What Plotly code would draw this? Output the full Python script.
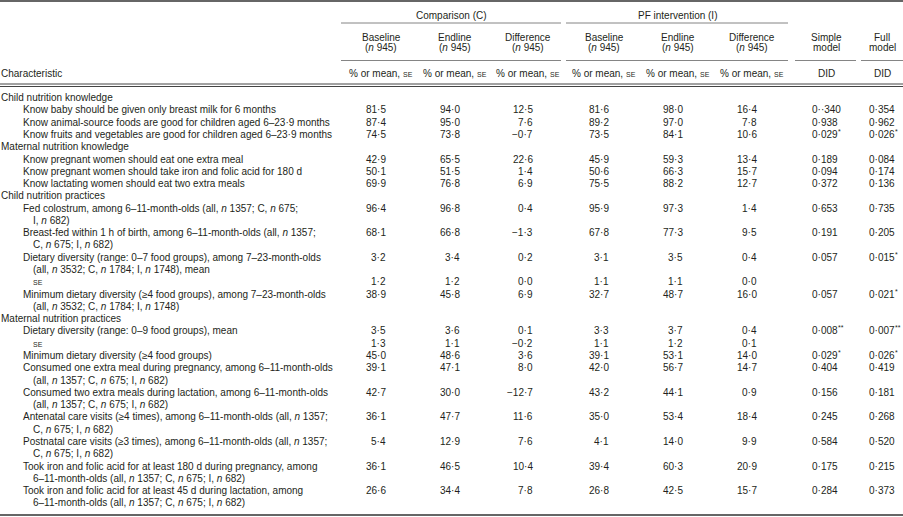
import plotly.graph_objects as go

# filas del cuerpo de la tabla (una entrada por línea de texto)
etiquetas = [
    "Child nutrition knowledge",
    "Know baby should be given only breast milk for 6 months",
    "Know animal-source foods are good for children aged 6–23·9 months",
    "Know fruits and vegetables are good for children aged 6–23·9 months",
    "Maternal nutrition knowledge",
    "Know pregnant women should eat one extra meal",
    "Know pregnant women should take iron and folic acid for 180 d",
    "Know lactating women should eat two extra meals",
    "Child nutrition practices",
    "Fed colostrum, among 6–11-month-olds (all, <i>n</i> 1357; C, <i>n</i> 675;",
    "I, <i>n</i> 682)",
    "Breast-fed within 1 h of birth, among 6–11-month-olds (all, <i>n</i> 1357;",
    "C, <i>n</i> 675; I, <i>n</i> 682)",
    "Dietary diversity (range: 0–7 food groups), among 7–23-month-olds",
    "(all, <i>n</i> 3532; C, <i>n</i> 1784; I, <i>n</i> 1748), mean",
    "SE",
    "Minimum dietary diversity (≥4 food groups), among 7–23-month-olds",
    "(all, <i>n</i> 3532; C, <i>n</i> 1784; I, <i>n</i> 1748)",
    "Maternal nutrition practices",
    "Dietary diversity (range: 0–9 food groups), mean",
    "SE",
    "Minimum dietary diversity (≥4 food groups)",
    "Consumed one extra meal during pregnancy, among 6–11-month-olds",
    "(all, <i>n</i> 1357; C, <i>n</i> 675; I, <i>n</i> 682)",
    "Consumed two extra meals during lactation, among 6–11-month-olds",
    "(all, <i>n</i> 1357; C, <i>n</i> 675; I, <i>n</i> 682)",
    "Antenatal care visits (≥4 times), among 6–11-month-olds (all, <i>n</i> 1357;",
    "C, <i>n</i> 675; I, <i>n</i> 682)",
    "Postnatal care visits (≥3 times), among 6–11-month-olds (all, <i>n</i> 1357;",
    "C, <i>n</i> 675; I, <i>n</i> 682)",
    "Took iron and folic acid for at least 180 d during pregnancy, among",
    "6–11-month-olds (all, <i>n</i> 1357; C, <i>n</i> 675; I, <i>n</i> 682)",
    "Took iron and folic acid for at least 45 d during lactation, among",
    "6–11-month-olds (all, <i>n</i> 1357; C, <i>n</i> 675; I, <i>n</i> 682)",
]
nivel = [0, 1, 1, 1, 0, 1, 1, 1, 0, 1, 2, 1, 2, 1, 2, 2, 1, 2,
         0, 1, 2, 1, 1, 2, 1, 2, 1, 2, 1, 2, 1, 2, 1, 2]

N = None
base_c = [N, 81.5, 87.4, 74.5, N, 42.9, 50.1, 69.9, N, 96.4, N, 68.1, N, 3.2, N, 1.2, 38.9, N,
          N, 3.5, 1.3, 45.0, 39.1, N, 42.7, N, 36.1, N, 5.4, N, 36.1, N, 26.6, N]
end_c = [N, 94.0, 95.0, 73.8, N, 65.5, 51.5, 76.8, N, 96.8, N, 66.8, N, 3.4, N, 1.2, 45.8, N,
         N, 3.6, 1.1, 48.6, 47.1, N, 30.0, N, 47.7, N, 12.9, N, 46.5, N, 34.4, N]
dif_c = [N, 12.5, 7.6, -0.7, N, 22.6, 1.4, 6.9, N, 0.4, N, -1.3, N, 0.2, N, 0.0, 6.9, N,
         N, 0.1, -0.2, 3.6, 8.0, N, -12.7, N, 11.6, N, 7.6, N, 10.4, N, 7.8, N]
base_i = [N, 81.6, 89.2, 73.5, N, 45.9, 50.6, 75.5, N, 95.9, N, 67.8, N, 3.1, N, 1.1, 32.7, N,
          N, 3.3, 1.1, 39.1, 42.0, N, 43.2, N, 35.0, N, 4.1, N, 39.4, N, 26.8, N]
end_i = [N, 98.0, 97.0, 84.1, N, 59.3, 66.3, 88.2, N, 97.3, N, 77.3, N, 3.5, N, 1.1, 48.7, N,
         N, 3.7, 1.2, 53.1, 56.7, N, 44.1, N, 53.4, N, 14.0, N, 60.3, N, 42.5, N]
dif_i = [N, 16.4, 7.8, 10.6, N, 13.4, 15.7, 12.7, N, 1.4, N, 9.5, N, 0.4, N, 0.0, 16.0, N,
         N, 0.4, 0.1, 14.0, 14.7, N, 0.9, N, 18.4, N, 9.9, N, 20.9, N, 15.7, N]
did_simple = ["", "0··340", "0·938", "0·029", "", "0·189", "0·094", "0·372", "", "0·653", "",
              "0·191", "", "0·057", "", "", "0·057", "", "", "0·008", "", "0·029", "0·404", "",
              "0·156", "", "0·245", "", "0·584", "", "0·175", "", "0·284", ""]
sig_simple = ["", "", "", "*", "", "", "", "", "", "", "", "", "", "", "", "", "", "",
              "", "**", "", "*", "", "", "", "", "", "", "", "", "", "", "", ""]
did_full = ["", "0·354", "0·962", "0·026", "", "0·084", "0·174", "0·136", "", "0·735", "",
            "0·205", "", "0·015", "", "", "0·021", "", "", "0·007", "", "0·026", "0·419", "",
            "0·181", "", "0·268", "", "0·520", "", "0·215", "", "0·373", ""]
sig_full = ["", "", "", "*", "", "", "", "", "", "", "", "", "", "*", "", "", "*", "",
            "", "**", "", "*", "", "", "", "", "", "", "", "", "", "", "", ""]

grupos = ["Comparison (C)", "PF intervention (I)"]
cab_linea1 = ["Baseline", "Endline", "Difference", "Baseline", "Endline", "Difference", "Simple", "Full"]
cab_linea2 = ["(<i>n</i> 945)"] * 6 + ["model", "model"]

# geometría (px)
FUENTE = "Liberation Sans, Arial, sans-serif"
TAM = 10
TAM_SC = 7
COLOR = "#231f20"
Y0, PASO = 97.6, 12.28
sangria = [1, 23, 33]
centros = [381, 455, 528, 604, 678, 752, 826, 882]
derecha_num = [c + 5 for c in centros[:6]]
izq_did = [812, 869]
reglas_grupo = [(341, 561), (566, 788)]
reglas_sub = [(341, 561), (566, 788), (795, 856), (861, 903)]

fig = go.Figure()


def fmt(v):
    if v is None:
        return ""
    s = f"{abs(v):.1f}".replace(".", "·")
    return ("−" if v < 0 else "") + s


def ancho(s, tam=TAM):
    # anchos aproximados de Liberation Sans (em)
    w = {"·": 0.333, "%": 0.889, " ": 0.278, ",": 0.278, "m": 0.833, "r": 0.333}
    return sum(w.get(ch, 0.556) for ch in s) * tam


def texto(x, y, t, anclaje, tam=TAM):
    if t:
        fig.add_annotation(x=x, y=y, xref="x", yref="y", text=t, showarrow=False,
                           xanchor=anclaje, yanchor="middle",
                           font=dict(family=FUENTE, size=tam, color=COLOR),
                           borderpad=0, borderwidth=0)


ys = [Y0 + PASO * i for i in range(len(etiquetas))]

# columna de características
for y, t, n in zip(ys, etiquetas, nivel):
    texto(sangria[n], y + (1 if t == "SE" else 0), t, "left", TAM_SC if t == "SE" else TAM)

# columnas numéricas alineadas a la derecha
for xd, col in zip(derecha_num, [base_c, end_c, dif_c, base_i, end_i, dif_i]):
    for y, v in zip(ys, col):
        texto(xd, y, fmt(v), "right")

# columnas DID alineadas a la izquierda, con asteriscos volados
for xi, col, sig in zip(izq_did, [did_simple, did_full], [sig_simple, sig_full]):
    for y, s, a in zip(ys, col, sig):
        texto(xi, y, s, "left")
        texto(xi + ancho(s) + 0.5, y - 3, a, "left", TAM_SC)

# cabeceras
for (x0, x1), g in zip(reglas_grupo, grupos):
    texto((x0 + x1) / 2, 15, g, "center")
prefijo = "% or mean, "
w_pref = ancho(prefijo)
w_sc = 1.334 * TAM_SC
for i, (c, a, b) in enumerate(zip(centros, cab_linea1, cab_linea2)):
    texto(c, 37, a, "center")
    texto(c, 47.5, b, "center")
    if i < 6:
        x_ini = c - (w_pref + w_sc) / 2
        texto(x_ini, 73, prefijo, "left")
        texto(x_ini + w_pref, 74, "SE", "left", TAM_SC)
    else:
        texto(c, 73, "DID", "center")
texto(1, 73, "Characteristic", "left")


# reglas horizontales
def regla(x0, x1, y, w=0.8, c="#666"):
    fig.add_shape(type="line", xref="x", yref="y", x0=x0, x1=x1, y0=y, y1=y,
                  line=dict(color=c, width=w))


regla(0, 903, 1, 1.6, "#333")
for x0, x1 in reglas_grupo:
    regla(x0, x1, 23)
for x0, x1 in reglas_sub:
    regla(x0, x1, 60.5)
regla(0, 903, 84, 1.0, "#444")
regla(0, 903, 86.5, 1.0, "#444")
regla(0, 903, 515, 1.6, "#333")

fig.update_layout(
    width=903, height=517, margin=dict(l=0, r=0, t=0, b=0),
    paper_bgcolor="white", plot_bgcolor="white", showlegend=False,
    xaxis=dict(range=[0, 903], visible=False, fixedrange=True),
    yaxis=dict(range=[517, 0], visible=False, fixedrange=True),
)

fig.write_html("out.html", config={"displayModeBar": False},
               post_script="document.body.style.margin='0';")
